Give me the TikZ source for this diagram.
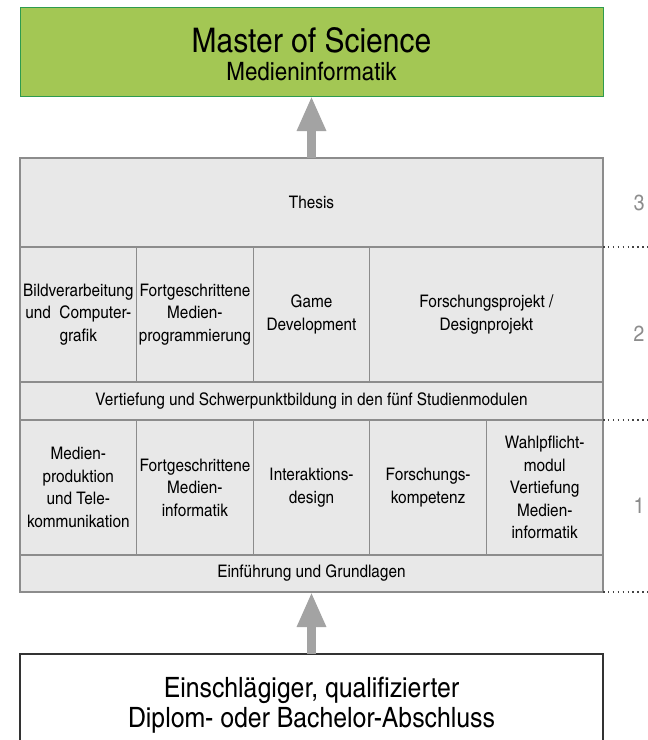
\documentclass[tikz,border=0pt]{standalone}
\usepackage{fontspec}
\setmainfont{TeX Gyre Heros Cn}[FakeStretch=1.08]
\usepackage{xcolor}
\usepackage{tikz}
\usetikzlibrary{positioning,arrows.meta}

\definecolor{mscgreen}{HTML}{A3C754}
\definecolor{greenedge}{HTML}{2E9B4F}
\definecolor{cellgray}{HTML}{E8E8E8}
\definecolor{gridline}{HTML}{8C8C8C}
\definecolor{arrowgray}{HTML}{A3A3A3}
\definecolor{levelgray}{HTML}{8C8C8C}
\definecolor{dotgray}{HTML}{444444}

\begin{document}
\begin{tikzpicture}[x=1pt,y=-1pt,
  cell/.style={draw=gridline,fill=cellgray,line width=1.1pt,outer sep=0pt,inner sep=0pt,
    align=center,font=\fontsize{17.3}{22.5}\selectfont},
  modul/.style={cell,minimum width=116.6pt,minimum height=135pt},
  band/.style={cell,minimum width=583pt,anchor=north west},
  bigarrow/.style={draw=arrowgray,line width=9pt,-{Triangle[width=27pt,length=35pt]}},
  dotline/.style={draw=dotgray,line width=1.5pt,dash pattern=on 1.5pt off 3.4pt},
  level/.style={text=levelgray,font=\fontsize{22}{22}\selectfont}]

  \useasboundingbox (0,0) rectangle (648,740);
  \clip (0,0) rectangle (648,740);
  \coordinate (rim) at (648,0);

  \node[draw=greenedge,fill=mscgreen,line width=1pt,outer sep=0pt,
    minimum width=583pt,minimum height=89pt,anchor=north west] (msc) at (20,7) {};
  \node[anchor=base,font=\fontsize{33.9}{33.9}\selectfont] (msctitle) at (311.5,52) {Master of Science};
  \node[anchor=base,font=\fontsize{25.3}{25.3}\selectfont] (mscsub) at (311.5,80.5) {Medieninformatik};

  \node[band,minimum height=89pt] (thesis) at (20,158) {Thesis};

  \node[modul,anchor=north west] (b1) at (20,247) {Bildverarbeitung\\und~~Computer-\\grafik};
  \node[modul,right=0pt of b1] (b2) {Fortgeschrittene\\Medien-\\programmierung};
  \node[modul,right=0pt of b2] (b3) {Game\\Development};
  \node[modul,minimum width=233.2pt,right=0pt of b3] (b4) {Forschungsprojekt /\\Designprojekt};

  \node[band,minimum height=38pt] (vertiefung) at (20,382)
    {Vertiefung und Schwerpunktbildung in den fünf Studienmodulen};

  \node[modul,anchor=north west] (a1) at (20,420) {Medien-\\produktion\\und Tele-\\kommunikation};
  \node[modul,right=0pt of a1] (a2) {Fortgeschrittene\\Medien-\\informatik};
  \node[modul,right=0pt of a2] (a3) {Interaktions-\\design};
  \node[modul,right=0pt of a3] (a4) {Forschungs-\\kompetenz};
  \node[modul,right=0pt of a4] (a5) {Wahlpflicht-\\modul\\Vertiefung\\Medien-\\informatik};

  \node[band,minimum height=37pt] (grundlagen) at (20,555) {Einführung und Grundlagen};

  \draw[dotline] (thesis.south east) -- (thesis.south east -| rim);
  \draw[dotline] (vertiefung.south east) -- (vertiefung.south east -| rim);
  \draw[dotline] (grundlagen.south east) -- (grundlagen.south east -| rim);

  \node[level] (l3) at (639,203) {3};
  \node[level] (l2) at (639,334) {2};
  \node[level] (l1) at (639,506) {1};

  \node[draw=black!80,fill=white,line width=1.2pt,outer sep=0pt,
    minimum width=583pt,minimum height=100pt,anchor=north west] (abschluss) at (20,654) {};
  \node[anchor=base,font=\fontsize{28}{28}\selectfont] (abschluss1) at (311.5,697) {Einschlägiger, qualifizierter};
  \node[anchor=base,font=\fontsize{28}{28}\selectfont] (abschluss2) at (311.5,727) {Diplom- oder Bachelor-Abschluss};

  \draw[bigarrow] (abschluss.north) -- (grundlagen.south);
  \draw[bigarrow] (thesis.north) -- (msc.south);
\end{tikzpicture}
\end{document}
